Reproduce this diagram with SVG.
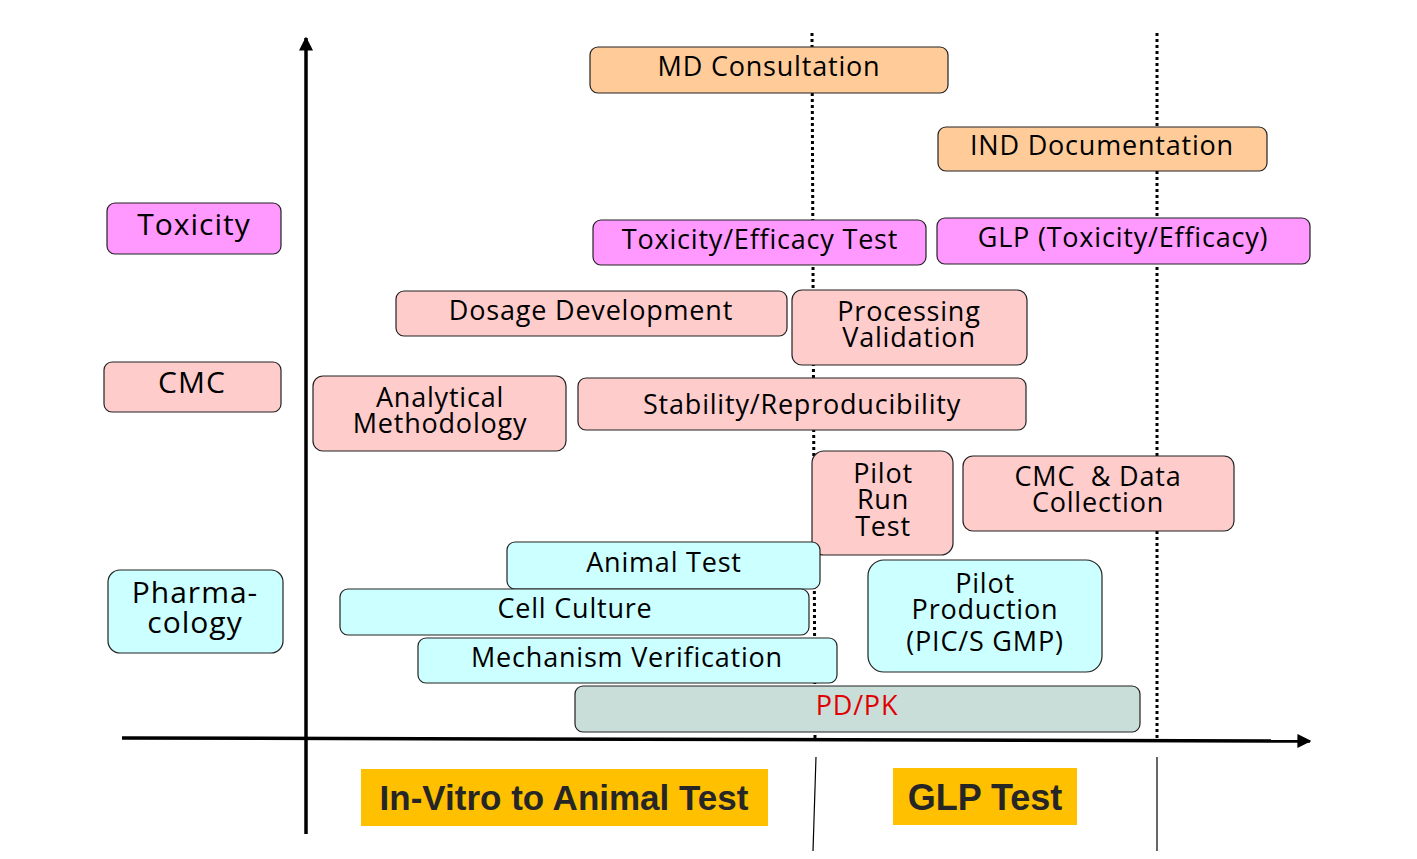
<svg xmlns="http://www.w3.org/2000/svg" width="1417" height="859" viewBox="0 0 1417 859">
<style>
.b{stroke:#222;stroke-width:1.2}
.or{fill:#FFCC99}.mg{fill:#FF99FF}.pk{fill:#FFCCCC}.cy{fill:#CCFFFF}.gr{fill:#C9DDD9}
.t{font-family:"Open Sans","Noto Sans",sans-serif;font-size:27px;font-weight:500;letter-spacing:0.8px;fill:#000;text-anchor:middle}
.lb{font-size:30px;letter-spacing:1px}
.y{fill:#FFC000}
.yt{font-family:"Liberation Sans",Arial,sans-serif;font-weight:bold;font-size:35px;fill:#262626;text-anchor:middle}
</style>
<defs>
<marker id="ah" viewBox="0 0 10 10" refX="9" refY="5" markerWidth="4" markerHeight="4" orient="auto" markerUnits="strokeWidth"><path d="M0,0 L10,5 L0,10 z" fill="#000"/></marker>
</defs>
<rect width="1417" height="859" fill="#fff"/>
<g id="connectors">
<line x1="306" y1="834" x2="306" y2="38" stroke="#000" stroke-width="3.5" marker-end="url(#ah)"/>
<line x1="122" y1="738" x2="1310" y2="741" stroke="#000" stroke-width="3.5" marker-end="url(#ah)"/>
<line x1="812" y1="33" x2="815" y2="738" stroke="#000" stroke-width="3" stroke-dasharray="3,3"/>
<line x1="1157" y1="33" x2="1157" y2="739" stroke="#000" stroke-width="3" stroke-dasharray="3,3"/>
<line x1="816" y1="757" x2="813" y2="851" stroke="#000" stroke-width="1.2"/>
<line x1="1157" y1="757" x2="1157" y2="851" stroke="#000" stroke-width="1.2"/>
</g>
<g id="md"><rect class="b or" x="590" y="47" width="358" height="46" rx="8"/><text class="t" x="769" y="76">MD Consultation</text></g>
<g id="ind"><rect class="b or" x="938" y="127" width="329" height="44" rx="8"/><text class="t" x="1102" y="155">IND Documentation</text></g>
<g id="toxicity"><rect class="b mg" x="107" y="203" width="174" height="51" rx="8"/><text class="t lb" x="194" y="235">Toxicity</text></g>
<g id="toxtest"><rect class="b mg" x="593" y="220" width="333" height="45" rx="8"/><text class="t" x="760" y="249">Toxicity/Efficacy Test</text></g>
<g id="glptox"><rect class="b mg" x="937" y="218" width="373" height="46" rx="8"/><text class="t" x="1123" y="247">GLP (Toxicity/Efficacy)</text></g>
<g id="dosage"><rect class="b pk" x="396" y="291" width="391" height="45" rx="8"/><text class="t" x="591" y="320">Dosage Development</text></g>
<g id="procval"><rect class="b pk" x="792" y="290" width="235" height="75" rx="10"/><text class="t" x="909" y="321">Processing</text><text class="t" x="909" y="347">Validation</text></g>
<g id="cmc"><rect class="b pk" x="104" y="362" width="177" height="50" rx="8"/><text class="t lb" x="192" y="393">CMC</text></g>
<g id="analytical"><rect class="b pk" x="313" y="376" width="253" height="75" rx="10"/><text class="t" x="440" y="407">Analytical</text><text class="t" x="440" y="433">Methodology</text></g>
<g id="stability"><rect class="b pk" x="578" y="378" width="448" height="52" rx="8"/><text class="t" x="802" y="414">Stability/Reproducibility</text></g>
<g id="pilotrun"><rect class="b pk" x="812" y="451" width="141" height="104" rx="12"/><text class="t" x="883" y="483">Pilot</text><text class="t" x="883" y="509">Run</text><text class="t" x="883" y="536">Test</text></g>
<g id="cmcdata"><rect class="b pk" x="963" y="456" width="271" height="75" rx="10"/><text class="t" x="1098" y="486" xml:space="preserve">CMC  &amp; Data</text><text class="t" x="1098" y="512">Collection</text></g>
<g id="pharma"><rect class="b cy" x="108" y="570" width="175" height="83" rx="12"/><text class="t lb" x="195" y="603">Pharma-</text><text class="t lb" x="195" y="633">cology</text></g>
<g id="animal"><rect class="b cy" x="507" y="542" width="313" height="47" rx="8"/><text class="t" x="664" y="572">Animal Test</text></g>
<g id="cell"><rect class="b cy" x="340" y="589" width="469" height="46" rx="8"/><text class="t" x="575" y="618">Cell Culture</text></g>
<g id="pilotprod"><rect class="b cy" x="868" y="560" width="234" height="112" rx="16"/><text class="t" x="985" y="593">Pilot</text><text class="t" x="985" y="619">Production</text><text class="t" x="985" y="651">(PIC/S GMP)</text></g>
<g id="mechanism"><rect class="b cy" x="418" y="638" width="419" height="45" rx="8"/><text class="t" x="627" y="667">Mechanism Verification</text></g>
<g id="pdpk"><rect class="b gr" x="575" y="686" width="565" height="46" rx="8"/><text class="t" x="857" y="715" style="fill:#E00000">PD/PK</text></g>
<g id="invitro"><rect class="y" x="361" y="769" width="407" height="57"/><text class="yt" x="564" y="810">In-Vitro to Animal Test</text></g>
<g id="glptest"><rect class="y" x="893" y="768" width="184" height="57"/><text class="yt" x="985" y="810" style="font-size:36px">GLP Test</text></g>
</svg>
